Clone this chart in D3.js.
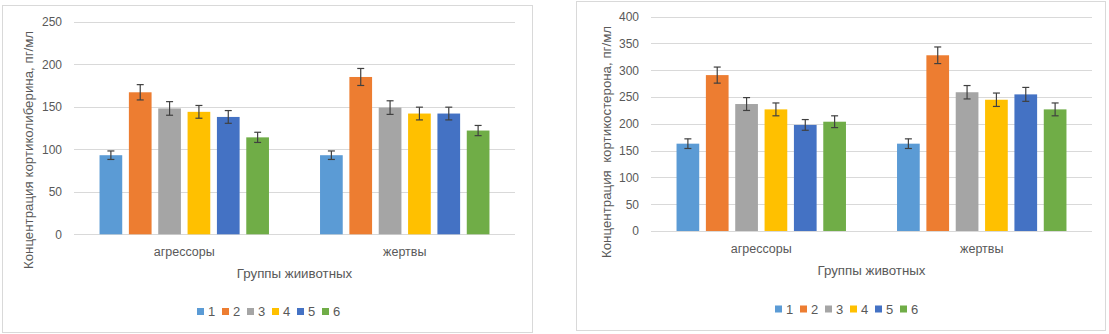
<!DOCTYPE html>
<html>
<head>
<meta charset="utf-8">
<script src="https://cdn.jsdelivr.net/npm/d3@7"></script>
<style>
  body { margin: 0; background: #fff; }
  text { font-family: "Liberation Sans", Arial, sans-serif; fill: #595959; }
</style>
</head>
<body>
<div id="chart"></div>
<script>
// data
const groups = ["агрессоры", "жертвы"];
const series = ["1", "2", "3", "4", "5", "6"];
const colors = ["#5B9BD5", "#ED7D31", "#A5A5A5", "#FFC000", "#4472C4", "#70AD47"];

// left: кортиколиберин
const crhValues = [
    [93, 167, 148, 144, 138, 114],
    [93, 185, 149, 142, 142, 122]
];
const crhErrors = [
    [5, 9, 8, 7.5, 7.5, 6],
    [5, 10, 8, 7.5, 7.5, 6]
];
const crhTicks = [0, 50, 100, 150, 200, 250];

// right: кортикостерон
const cortValues = [
    [163, 291, 237, 227, 198, 204],
    [163, 328, 259, 245, 255, 227]
];
const cortErrors = [
    [9, 15, 12, 12, 10, 11],
    [9, 15.5, 12.5, 12.5, 13, 12]
];
const cortTicks = [0, 50, 100, 150, 200, 250, 300, 350, 400];

const svg = d3.select("#chart").append("svg")
    .attr("width", 1109)
    .attr("height", 334);

function drawChart(cfg) {
    let g = svg.append("g");

    // outer frame
    g.append("rect")
        .attr("x", cfg.box[0] + 0.5).attr("y", cfg.box[1] + 0.5)
        .attr("width", cfg.box[2] - cfg.box[0]).attr("height", cfg.box[3] - cfg.box[1])
        .attr("fill", "#fff").attr("stroke", "#d9d9d9");

    let x = d3.scaleBand().domain(groups).range([cfg.left, cfg.left + 441]);
    let xs = d3.scaleBand().domain(series).range([0, x.bandwidth()])
        .paddingInner(0.2266).paddingOuter(0.87);
    let y = d3.scaleLinear().domain([0, d3.max(cfg.ticks)]).range([cfg.bottom, cfg.top]);

    // gridlines + tick labels
    let yAxis = d3.axisLeft(y).tickValues(cfg.ticks).tickSize(-441).tickPadding(12);
    let ag = g.append("g")
        .attr("transform", "translate(" + cfg.left + ",0)")
        .call(yAxis);
    ag.select(".domain").remove();
    ag.selectAll("line").attr("stroke", "#d9d9d9").attr("shape-rendering", "crispEdges");
    ag.selectAll("text").attr("font-size", "12px").attr("fill", "#595959")
        .style("font-family", '"Liberation Sans", Arial, sans-serif');

    // bars
    groups.forEach((grp, gi) => {
        let gg = g.append("g").attr("transform", "translate(" + x(grp) + ",0)");
        gg.selectAll("rect").data(cfg.values[gi])
            .enter().append("rect")
            .attr("x", (d, i) => xs(series[i]))
            .attr("y", d => y(d))
            .attr("width", xs.bandwidth())
            .attr("height", d => y(0) - y(d))
            .attr("fill", (d, i) => colors[i]);

        // error bars
        cfg.values[gi].forEach((v, i) => {
            let cx = xs(series[i]) + xs.bandwidth() / 2;
            let e = cfg.errors[gi][i];
            let eb = gg.append("g").attr("stroke", "#404040").attr("stroke-width", 1.2);
            eb.append("line").attr("x1", cx).attr("x2", cx).attr("y1", y(v - e)).attr("y2", y(v + e));
            eb.append("line").attr("x1", cx - 3.5).attr("x2", cx + 3.5).attr("y1", y(v - e)).attr("y2", y(v - e));
            eb.append("line").attr("x1", cx - 3.5).attr("x2", cx + 3.5).attr("y1", y(v + e)).attr("y2", y(v + e));
        });
    });

    // category labels
    g.selectAll(".cat").data(groups).enter().append("text")
        .attr("class", "cat")
        .attr("x", d => x(d) + x.bandwidth() / 2)
        .attr("y", cfg.catY)
        .attr("text-anchor", "middle")
        .attr("dominant-baseline", "central")
        .attr("font-size", "12.5px")
        .text(d => d);

    // axis titles
    g.append("text")
        .attr("x", cfg.left + 220.5)
        .attr("y", cfg.titleY)
        .attr("text-anchor", "middle")
        .attr("dominant-baseline", "central")
        .attr("font-size", "13.3px")
        .text(cfg.xTitle);

    g.append("text")
        .attr("transform", "translate(" + cfg.yTitleX + "," + cfg.yTitleY + ") rotate(-90)")
        .attr("text-anchor", "middle")
        .attr("dominant-baseline", "central")
        .attr("font-size", "13.3px")
        .style("white-space", "pre")
        .text(cfg.yTitle);

    // legend
    let lg = g.append("g").attr("transform", "translate(" + cfg.legendX + "," + cfg.legendY + ")");
    series.forEach((s, i) => {
        lg.append("rect")
            .attr("x", i * 25).attr("y", -3.5)
            .attr("width", 7).attr("height", 7)
            .attr("fill", colors[i]);
        lg.append("text")
            .attr("x", i * 25 + 11).attr("y", 0)
            .attr("dominant-baseline", "central")
            .attr("font-size", "13px")
            .text(s);
    });
}

drawChart({
    box: [2, 5, 532, 332],
    left: 74, top: 21.7, bottom: 234.3,
    ticks: crhTicks, values: crhValues, errors: crhErrors,
    catY: 252, titleY: 273.5,
    xTitle: "Группы жиивотных",
    yTitle: "Концентрация кортиколиберина, пг/мл",
    yTitleX: 28, yTitleY: 150,
    legendX: 197, legendY: 311.5
});

drawChart({
    box: [576, 1, 1105, 330],
    left: 651, top: 16.7, bottom: 231,
    ticks: cortTicks, values: cortValues, errors: cortErrors,
    catY: 248.5, titleY: 270,
    xTitle: "Группы животных",
    yTitle: "Концентрация  кортикостерона, пг/мл",
    yTitleX: 606, yTitleY: 142,
    legendX: 775, legendY: 309
});
</script>
</body>
</html>
